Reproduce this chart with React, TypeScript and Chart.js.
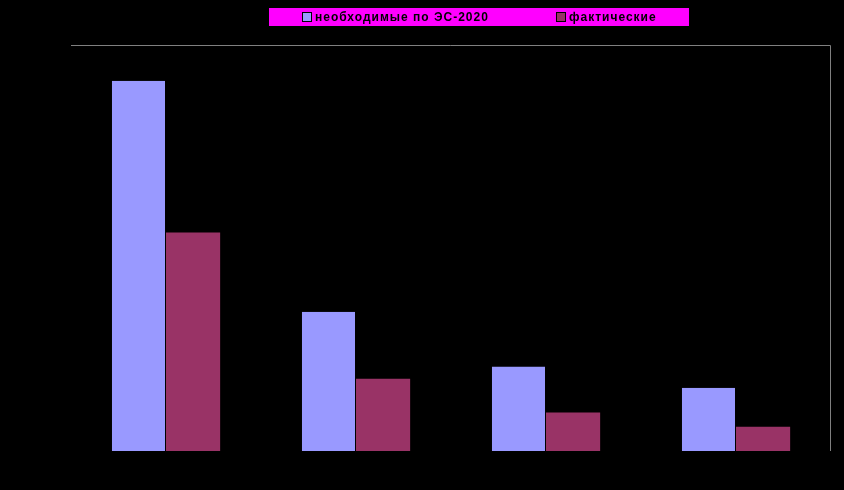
import React, { useEffect, useRef } from "react";
import { Chart, registerables } from "chart.js";

Chart.register(...registerables);

const categories = ["1", "2", "3", "4"];
const seriesNames = ["необходимые по ЭС-2020", "фактические"];
const requiredValues = [91.2, 34.3, 20.8, 15.6];
const actualValues = [53.8, 17.8, 9.5, 6.0];

const legendPlugin = {
  id: "customLegend",
  afterDraw(chart: any) {
    const ctx = chart.ctx;
    ctx.save();
    ctx.fillStyle = "#FF00FF";
    ctx.fillRect(269, 8, 420, 18);
    const items = [
      { x: 302, color: "#9999FF" },
      { x: 556, color: "#993366" },
    ];
    ctx.font = "bold 12px 'Liberation Sans', Arial, sans-serif";
    (ctx as any).letterSpacing = "1px";
    ctx.textBaseline = "alphabetic";
    chart.data.datasets.forEach((ds: any, i: number) => {
      const it = items[i];
      ctx.fillStyle = it.color;
      ctx.fillRect(it.x, 12, 10, 10);
      ctx.strokeStyle = "#000000";
      ctx.lineWidth = 1;
      ctx.strokeRect(it.x + 0.5, 12.5, 9, 9);
      ctx.fillStyle = "#000000";
      ctx.fillText(ds.label, it.x + 13, 21);
    });
    ctx.restore();
  },
};

const framePlugin = {
  id: "frame",
  afterDraw(chart: any) {
    const { ctx, chartArea } = chart;
    ctx.save();
    ctx.strokeStyle = "#808080";
    ctx.lineWidth = 1;
    ctx.beginPath();
    ctx.moveTo(chartArea.left, chartArea.top + 0.5);
    ctx.lineTo(chartArea.right - 0.5, chartArea.top + 0.5);
    ctx.lineTo(chartArea.right - 0.5, chartArea.bottom);
    ctx.stroke();
    ctx.restore();
  },
};

const bgPlugin = {
  id: "bg",
  beforeDraw(chart: any) {
    const ctx = chart.ctx;
    ctx.save();
    ctx.fillStyle = "#000000";
    ctx.fillRect(0, 0, chart.width, chart.height);
    ctx.restore();
  },
};

export default function App() {
  const ref = useRef<HTMLCanvasElement>(null);
  useEffect(() => {
    document.body.style.margin = "0";
    document.body.style.background = "#000";
    const chart = new Chart(ref.current!, {
      type: "bar",
      data: {
        labels: categories,
        datasets: [
          {
            label: seriesNames[0],
            data: requiredValues,
            backgroundColor: "#9999FF",
            borderColor: "#000000",
            borderWidth: { top: 0, left: 0, bottom: 0, right: 1 },
            borderSkipped: false,
          },
          {
            label: seriesNames[1],
            data: actualValues,
            backgroundColor: "#993366",
            borderWidth: 0,
          },
        ],
      },
      options: {
        animation: false,
        responsive: false,
        layout: { padding: { top: 45, left: 71, right: 13, bottom: 39 } },
        plugins: { legend: { display: false }, tooltip: { enabled: false } },
        datasets: { bar: { categoryPercentage: 0.57, barPercentage: 1 } },
        scales: {
          x: { display: false },
          y: { display: false, min: 0, max: 100 },
        },
      },
      plugins: [bgPlugin, framePlugin, legendPlugin],
    });
    return () => chart.destroy();
  }, []);
  return <canvas ref={ref} width={844} height={490} style={{ display: "block" }} />;
}
